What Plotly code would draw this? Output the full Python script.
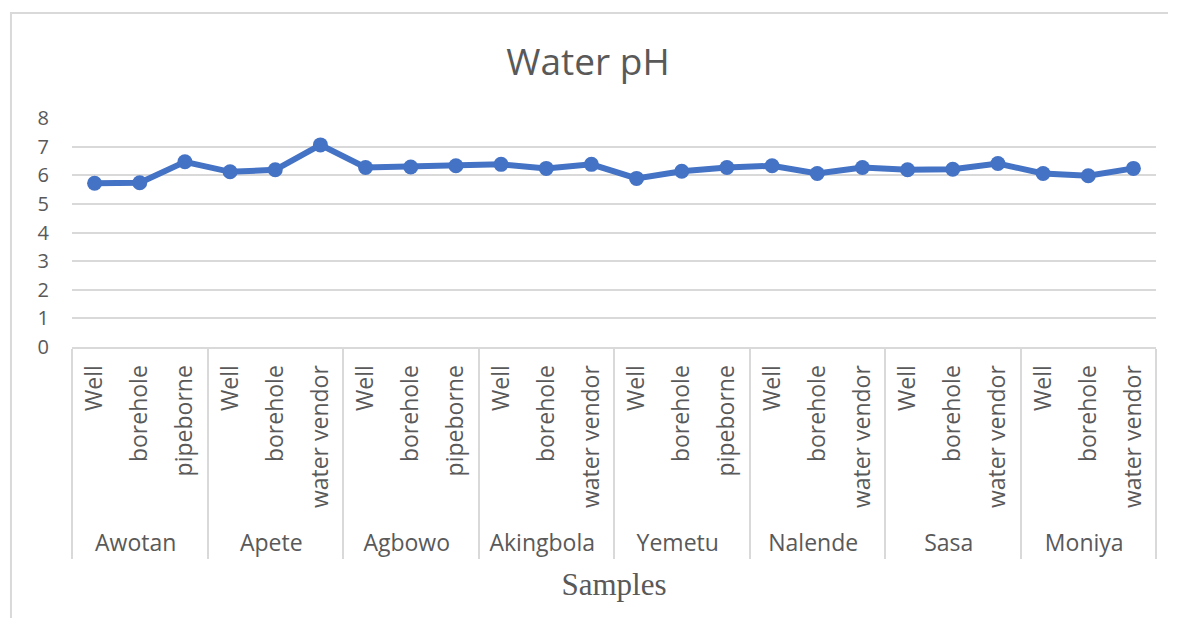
import plotly.graph_objects as go

locations = ["Awotan", "Apete", "Agbowo", "Akingbola", "Yemetu", "Nalende", "Sasa", "Moniya"]
sources = [
    ["Well", "borehole", "pipeborne"],
    ["Well", "borehole", "water vendor"],
    ["Well", "borehole", "pipeborne"],
    ["Well", "borehole", "water vendor"],
    ["Well", "borehole", "pipeborne"],
    ["Well", "borehole", "water vendor"],
    ["Well", "borehole", "water vendor"],
    ["Well", "borehole", "water vendor"],
]
ph_values = [
    [5.72, 5.74, 6.47],
    [6.12, 6.19, 7.06],
    [6.27, 6.29, 6.33],
    [6.38, 6.24, 6.38],
    [5.89, 6.14, 6.27],
    [6.33, 6.06, 6.27],
    [6.19, 6.21, 6.41],
    [6.06, 5.98, 6.24],
]

outer = [loc for loc, src in zip(locations, sources) for _ in src]
# a leading no-break space leaves a little more room below the rotated labels
inner = ["\u00a0" + s for src in sources for s in src]
ys = [v for vals in ph_values for v in vals]

GRID = "#d9d9d9"
TXT = "#595959"

fig = go.Figure()
fig.add_trace(
    go.Scatter(
        x=[outer, inner],
        y=ys,
        mode="lines+markers",
        line=dict(color="#4472C4", width=6),
        marker=dict(color="#4472C4", size=15),
        showlegend=False,
    )
)

# page body has an 8px margin, so the figure is kept smaller than the window
fig.update_layout(
    width=1160,
    height=610,
    margin=dict(l=64, r=12, t=110, b=271),
    paper_bgcolor="white",
    plot_bgcolor="white",
    font=dict(family="Open Sans", color=TXT),
    title=dict(
        text="Water pH",
        x=0.5,
        xanchor="center",
        y=0.9115,
        yanchor="middle",
        font=dict(family="Open Sans", size=37, color=TXT),
    ),
    xaxis=dict(
        type="multicategory",
        range=[-0.5, len(ys) - 0.5],
        showline=True,
        linecolor=GRID,
        linewidth=2,
        showgrid=False,
        tickangle=-90,
        tickfont=dict(size=23, color=TXT),
        ticklabelstandoff=7,
        showdividers=True,
        dividercolor=GRID,
        dividerwidth=2,
        automargin=False,
        title=dict(
            text="Samples",
            font=dict(family="Liberation Serif", size=31, color=TXT),
            standoff=16,
        ),
    ),
    yaxis=dict(
        range=[0, 8],
        dtick=1,
        showgrid=True,
        gridcolor=GRID,
        gridwidth=1.5,
        zeroline=False,
        showline=False,
        tickfont=dict(size=20, color=TXT),
        ticklabelstandoff=22,
        automargin=False,
    ),
    shapes=[
        dict(
            type="rect",
            xref="paper",
            yref="paper",
            x0=-0.0563,
            x1=1.2,
            y0=-2.0,
            y1=1.4585,
            line=dict(color=GRID, width=2),
            fillcolor="rgba(0,0,0,0)",
            layer="below",
        )
    ],
)

fig.write_html("out.html")
